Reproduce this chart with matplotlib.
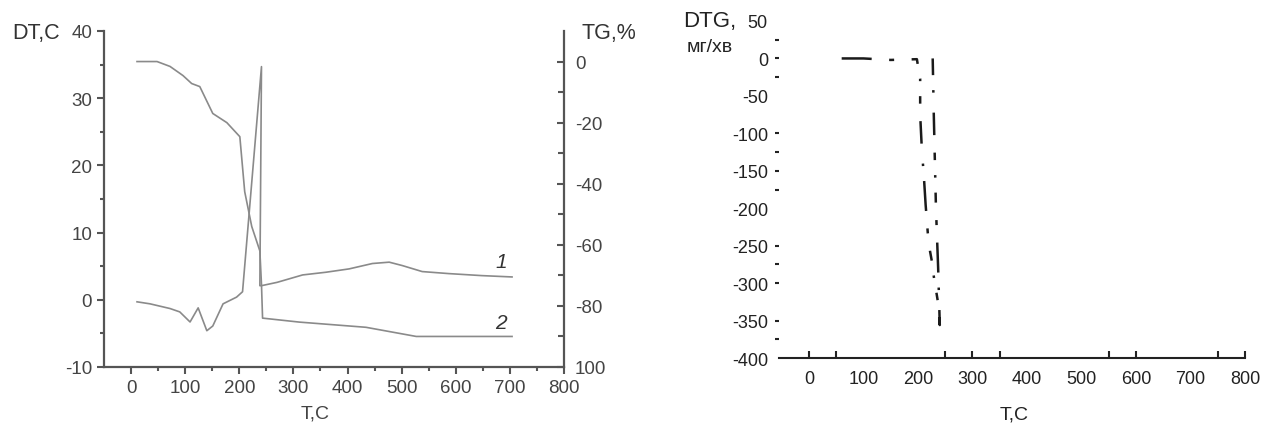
import numpy as np
import matplotlib.pyplot as plt
from matplotlib.ticker import FixedLocator

plt.rcParams['font.family'] = ['Liberation Sans', 'DejaVu Sans']
plt.rcParams['axes.unicode_minus'] = False

# DT curve (curve 1), left axis
dt_T = [11, 35, 72, 90, 109, 124, 140, 151, 170, 195, 206, 241, 238, 241,
        270, 317, 360, 403, 446, 477, 501, 538, 587, 648, 704]
dt_V = [-0.3, -0.6, -1.3, -1.8, -3.3, -1.2, -4.6, -3.9, -0.6, 0.4, 1.2, 34.7, 2.1, 2.1,
        2.6, 3.7, 4.1, 4.6, 5.4, 5.6, 5.1, 4.2, 3.9, 3.6, 3.4]

# TG curve (curve 2), right axis
tg_T = [11, 48, 72, 96, 112, 127, 151, 177, 201, 210, 223, 238, 241, 243,
        311, 434, 527, 600, 704]
tg_V = [0, 0, -1.6, -4.6, -7.2, -8.2, -17, -20, -24.6, -42.6, -54, -62, -73, -84,
        -85.3, -87, -90, -90, -90]

# DTG curve
dtg_T = [60, 100, 150, 198, 204, 204, 207, 211, 214, 218, 222, 226, 229, 233, 237,
         240, 237, 233, 229, 227]
dtg_V = [0, 0, -2, -1, -27, -75, -120, -160, -195, -233, -257, -273, -291, -309, -327,
         -356, -280, -200, -75, 0]

W, H = 1265, 427
fig = plt.figure(figsize=(W / 100, H / 100), dpi=100)

axc = '#555555'
txc = '#444444'
lc = '#8a8a8a'

# ---- left panel: DT and TG
ax1 = fig.add_axes([104 / W, 1 - 368 / H, 460 / W, 336 / H])
ax1.plot(dt_T, dt_V, color=lc, lw=1.2)
ax1.set_xlim(-50, 800)
ax1.set_ylim(-10, 40)
ax1.set_xticks(range(0, 801, 100))
ax1.xaxis.set_minor_locator(FixedLocator(range(50, 800, 100)))
ax1.set_yticks(range(-10, 41, 10))
ax1.yaxis.set_minor_locator(FixedLocator(range(-5, 40, 10)))
ax1.spines['top'].set_visible(False)
ax1.spines['right'].set_visible(False)
for s in ['left', 'bottom']:
    ax1.spines[s].set_color(axc)
    ax1.spines[s].set_linewidth(1.6)
ax1.tick_params(which='major', direction='out', length=5, width=1.5, color=axc,
                labelsize=13.5, labelcolor=txc)
ax1.tick_params(which='minor', direction='out', length=3, width=1.5, color=axc)

ax2 = ax1.twinx()
ax2.plot(tg_T, tg_V, color=lc, lw=1.2)
ax2.set_ylim(-100, 10)
tg_ticks = [0, -20, -40, -60, -80, -100]
tg_labels = ['0', '-20', '-40', '-60', '-80', '100']
ax2.set_yticks(tg_ticks)
ax2.set_yticklabels(tg_labels)
ax2.yaxis.set_minor_locator(FixedLocator(range(-90, 0, 20)))
for s in ['top', 'left', 'bottom']:
    ax2.spines[s].set_visible(False)
ax2.spines['right'].set_color(axc)
ax2.spines['right'].set_linewidth(1.6)
ax2.tick_params(which='major', direction='in', length=5, width=1.5, color=axc,
                labelsize=13.5, labelcolor=txc, pad=8)
ax2.tick_params(which='minor', direction='in', length=4, width=1.5, color=axc)

ax1.text(695, 3.4 + 0.9, '1', style='italic', fontsize=15, color='#333333', ha='right', va='bottom')
ax2.text(695, -90 + 1.5, '2', style='italic', fontsize=15, color='#333333', ha='right', va='bottom')

fig.text(36 / W, 1 - 33 / H, 'DT,C', fontsize=15.5, color='#333333', ha='center', va='center')
fig.text(609 / W, 1 - 33 / H, 'TG,%', fontsize=15.5, color='#333333', ha='center', va='center')
fig.text(315 / W, 1 - 414 / H, 'T,C', fontsize=14, color=txc, ha='center', va='center')

# ---- right panel: DTG
ax3 = fig.add_axes([779 / W, 1 - 359 / H, 466 / W, 337 / H])
ax3.plot(dtg_T, dtg_V, color='#1a1a1a', lw=1.8,
         dashes=(12, 7, 2, 7, 4, 6, 1, 6, 3, 7, 9, 8, 1, 6))
ax3.set_xlim(-55, 800)
ax3.set_ylim(-400, 50)
for s in ['top', 'right', 'left']:
    ax3.spines[s].set_visible(False)
ax3.spines['bottom'].set_color('#222222')
ax3.spines['bottom'].set_linewidth(1.5)
ax3.xaxis.remove_overlapping_locs = False
ax3.yaxis.remove_overlapping_locs = False
ax3.set_xticks(range(0, 801, 100))
ax3.xaxis.set_minor_locator(FixedLocator([0, 50, 250, 300, 350, 550, 600, 750, 800]))
ax3.set_yticks(range(-400, 51, 50))
ax3.yaxis.set_minor_locator(FixedLocator([25, 0, -25, -100, -125, -150, -175, -250,
                                          -275, -300, -350, -375]))
ax3.tick_params(axis='x', which='major', length=0, labelsize=13, labelcolor='#222222', pad=9)
ax3.tick_params(axis='x', which='minor', direction='in', length=5, width=1.5, color='#222222')
ax3.tick_params(axis='y', which='major', length=0, labelsize=13, labelcolor='#222222', pad=8)
ax3.tick_params(axis='y', which='minor', direction='out', length=3, width=1.5, color='#222222')

fig.text(710 / W, 1 - 21 / H, 'DTG,', fontsize=16, color='#222222', ha='center', va='center')
fig.text(710 / W, 1 - 48 / H, 'мг/хв', fontsize=14, color='#222222', ha='center', va='center')
fig.text(1014 / W, 1 - 415 / H, 'T,C', fontsize=14, color='#222222', ha='center', va='center')

fig.savefig('out.png', dpi=100)
